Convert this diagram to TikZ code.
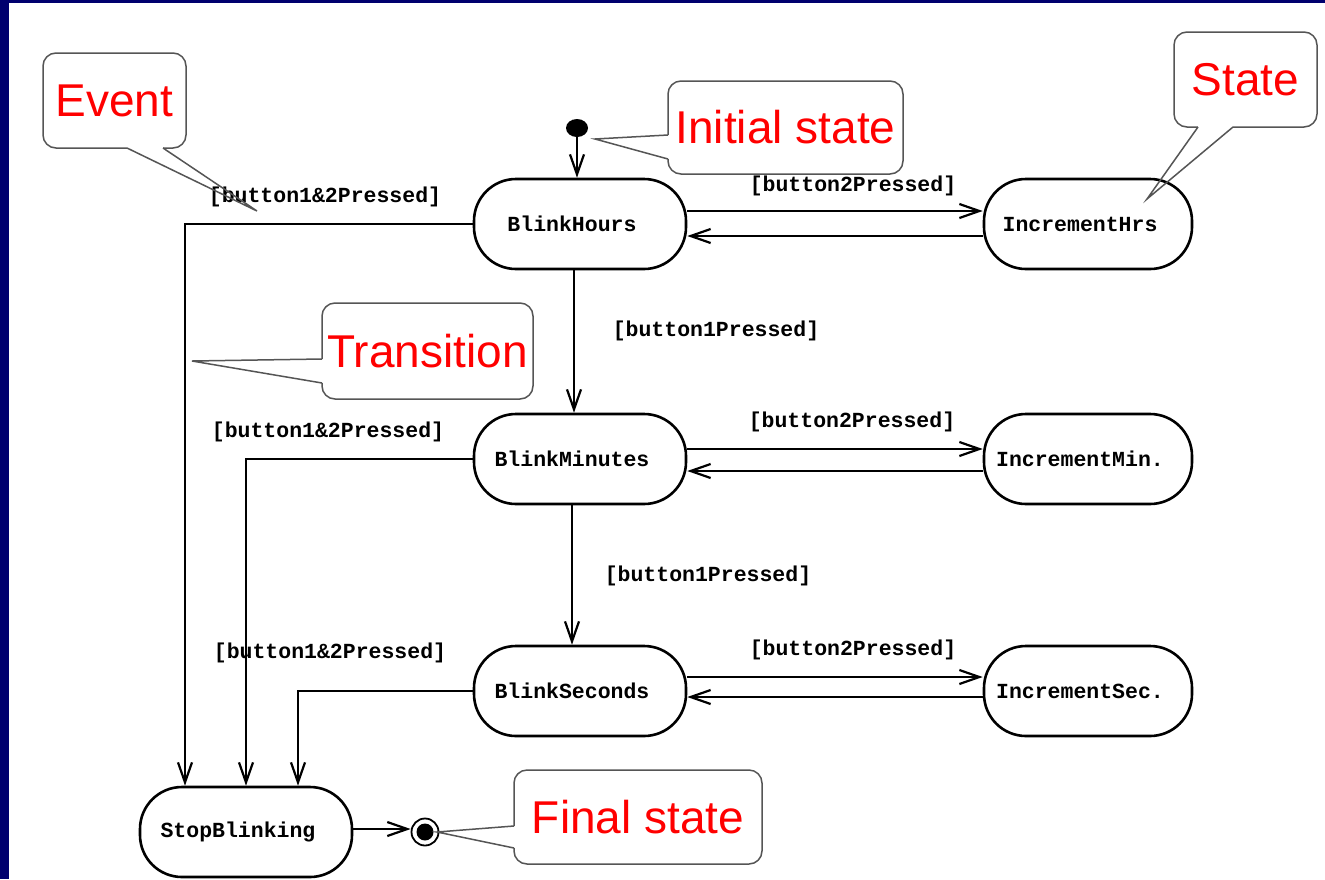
\documentclass[tikz,border=0pt]{standalone}
\usepackage{fontspec}
\newfontfamily\calloutfont{Liberation Sans}
\newfontfamily\guardfam{Liberation Mono}
\usetikzlibrary{arrows.meta,shapes.geometric}
\definecolor{navy}{RGB}{0,0,110}
\definecolor{callgray}{RGB}{85,85,85}
\definecolor{callred}{RGB}{255,0,0}

% heavy typewriter face for state names and guards
\newcommand\guardfont{\guardfam\bfseries\fontsize{21.5}{24}\selectfont}

% pointer of a speech bubble: base point A, tip, base point B
\newcommand\bubbleptr[3]{%
  \draw[white, line width=3pt] #1 -- #3;
  \draw[callline] #1 -- #2 -- #3;}

\begin{document}
\begin{tikzpicture}[x=1pt,y=-1pt,
  statebox/.style={draw, line width=2.6pt, rounded corners=42pt,
    minimum width=212pt, minimum height=90pt, inner sep=0pt,
    font=\guardfont, execute at end node=\hspace*{16pt}},
  guard/.style={inner sep=0pt, font=\guardfont},
  trans/.style={line width=2.6pt, -{Straight Barb[length=20pt,width=14pt,line width=2.2pt]}},
  bubble/.style={draw=callgray, line width=1.5pt, fill=white, rounded corners=13pt,
    inner sep=0pt, text=callred, font=\calloutfont\fontsize{46}{50}\selectfont},
  callline/.style={draw=callgray, line width=1.5pt},
]
\useasboundingbox (0,0) rectangle (1325,879);
\fill[white] (0,0) rectangle (1325,879);
\fill[navy] (0,0) rectangle (9,879);
\fill[navy] (0,0) rectangle (1325,2.5);

% states
\node[statebox] (BH) at (580,224) {BlinkHours};
\node[statebox, minimum width=208pt] (IH) at (1088,224) {IncrementHrs};
\node[statebox] (BM) at (580,459) {BlinkMinutes};
\node[statebox, minimum width=208pt] (IM) at (1088,459) {IncrementMin.};
\node[statebox] (BS) at (580,691) {BlinkSeconds};
\node[statebox, minimum width=208pt] (IS) at (1088,691) {IncrementSec.};
\node[statebox] (SB) at (246,832) {StopBlinking};

% pseudo states
\node[fill, ellipse, minimum width=22pt, minimum height=18pt, inner sep=0pt] (init) at (577,128) {};
\node[circle, draw, line width=1.8pt, minimum size=27pt, inner sep=0pt] (fin) at (425,832) {};
\fill (fin.center) circle (8.5);

% transitions
\draw[trans] (init) -- (init |- BH.north);
\draw[trans] ([yshift=13pt]BH.east) -- ([yshift=13pt]IH.west);
\draw[trans] ([yshift=-12pt]IH.west) -- ([yshift=-12pt]BH.east);
\draw[trans] ([yshift=10pt]BM.east) -- ([yshift=10pt]IM.west);
\draw[trans] ([yshift=-12pt]IM.west) -- ([yshift=-12pt]BM.east);
\draw[trans] ([yshift=14pt]BS.east) -- ([yshift=14pt]IS.west);
\draw[trans] ([yshift=-6pt]IS.west) -- ([yshift=-6pt]BS.east);
\draw[trans] ([xshift=-6pt]BH.south) -- ([xshift=-6pt]BM.north);
\draw[trans] ([xshift=-8pt]BM.south) -- ([xshift=-8pt]BS.north);
\draw[trans] (BH.west) -| ([xshift=-61pt]SB.north);
\draw[trans] (BM.west) -| (SB.north);
\draw[trans] (BS.west) -| ([xshift=52pt]SB.north);
\draw[trans] ([yshift=3pt]SB.east) -- ([yshift=3pt]fin.west);

% guards
\node[guard] (g1) at (325,197) {[button1\&2Pressed]};
\node[guard] (g2) at (853,186) {[button2Pressed]};
\node[guard] (g3) at (716,331) {[button1Pressed]};
\node[guard] (g4) at (328,432) {[button1\&2Pressed]};
\node[guard] (g5) at (852,422) {[button2Pressed]};
\node[guard] (g6) at (708,576) {[button1Pressed]};
\node[guard] (g7) at (330,653) {[button1\&2Pressed]};
\node[guard] (g8) at (853,650) {[button2Pressed]};

% speech bubbles
\node[bubble, minimum width=143pt, minimum height=95pt] (cEvent) at (114.5,100.5) {Event};
\coordinate (tEvent) at (257,211);
\bubbleptr{(127,148)}{(tEvent)}{(163,148)}

\node[bubble, minimum width=235pt, minimum height=93pt] (cInit) at (785.5,127.5) {Initial state};
\coordinate (tInit) at (595,139);
\bubbleptr{(668,135)}{(tInit)}{(668,159)}

\node[bubble, minimum width=143pt, minimum height=95pt] (cState) at (1245.5,79.5) {State};
\coordinate (tState) at (1147,199);
\bubbleptr{(1198,127)}{(tState)}{(1233,127)}

\node[bubble, minimum width=211pt, minimum height=96pt] (cTrans) at (427.5,351) {Transition};
\coordinate (tTrans) at (192,361);
\bubbleptr{(322,359)}{(tTrans)}{(322,383)}

\node[bubble, minimum width=248pt, minimum height=94pt] (cFinal) at (638,817) {Final state};
\coordinate (tFinal) at (437,832);
\bubbleptr{(514,826)}{(tFinal)}{(514,848)}
\end{tikzpicture}
\end{document}
